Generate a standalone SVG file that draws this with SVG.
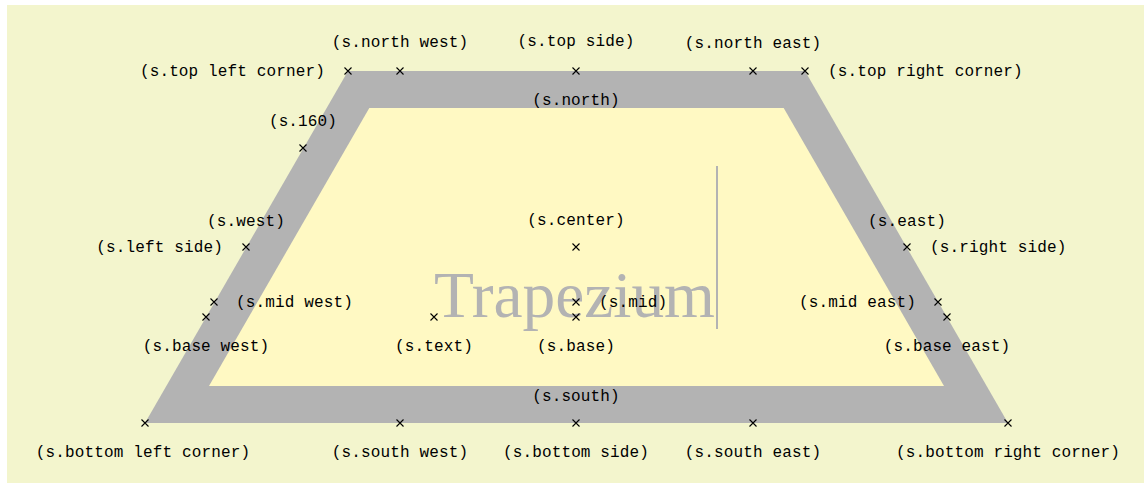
<svg xmlns="http://www.w3.org/2000/svg" width="1144" height="483" viewBox="0 0 1144 483">
<defs>
<style>
.lbl{font-family:"Liberation Mono","DejaVu Sans Mono",monospace;font-size:16px;letter-spacing:0.14px;fill:#000}
.m{text-anchor:middle}
.e{text-anchor:end}
.x{stroke:#000;stroke-width:1.1;fill:none}
</style>
<path id="cross" d="M-3.5,-3.5L3.5,3.5M-3.5,3.5L3.5,-3.5"/>
</defs>
<rect x="0" y="0" width="1144" height="483" fill="#ffffff"/>
<rect x="7" y="5" width="1137" height="478" fill="#f3f5cd"/>
<g id="shape">
<polygon points="348,71 805,71 1008,423 145,423" fill="#b3b3b3"/>
<polygon points="369.3,108 783.7,108 944,386 209,386" fill="#fff9c3"/>
<text x="434" y="317" font-family="'Liberation Serif','DejaVu Serif',serif" font-size="66" fill="#b3b3b3" textLength="281" lengthAdjust="spacingAndGlyphs">Trapezium</text>
<line x1="717" y1="166" x2="717" y2="329" stroke="#b3b3b3" stroke-width="2"/>
</g>
<g id="anchors" class="x">
<use href="#cross" x="348" y="71"/>
<use href="#cross" x="400" y="71"/>
<use href="#cross" x="576" y="71"/>
<use href="#cross" x="753" y="71"/>
<use href="#cross" x="805" y="71"/>
<use href="#cross" x="303" y="148"/>
<use href="#cross" x="246" y="247"/>
<use href="#cross" x="214" y="302"/>
<use href="#cross" x="206" y="317"/>
<use href="#cross" x="576" y="247"/>
<use href="#cross" x="576" y="302"/>
<use href="#cross" x="576" y="317"/>
<use href="#cross" x="434" y="317"/>
<use href="#cross" x="907" y="247"/>
<use href="#cross" x="938" y="302"/>
<use href="#cross" x="947" y="317"/>
<use href="#cross" x="145" y="423"/>
<use href="#cross" x="400" y="423"/>
<use href="#cross" x="576" y="423"/>
<use href="#cross" x="753" y="423"/>
<use href="#cross" x="1008" y="423"/>
</g>
<g id="labels" class="lbl">
<text class="m" x="400" y="47">(s.north west)</text>
<text class="m" x="576" y="46">(s.top side)</text>
<text class="m" x="753" y="48">(s.north east)</text>
<text class="e" x="325" y="76">(s.top left corner)</text>
<text x="828" y="76">(s.top right corner)</text>
<text class="m" x="576" y="105">(s.north)</text>
<text class="m" x="303" y="126">(s.160)</text>
<text class="m" x="246" y="226">(s.west)</text>
<text class="e" x="223" y="252">(s.left side)</text>
<text class="m" x="576" y="225">(s.center)</text>
<text class="m" x="907" y="226">(s.east)</text>
<text x="930" y="252">(s.right side)</text>
<text x="236" y="307">(s.mid west)</text>
<text x="599" y="307">(s.mid)</text>
<text class="e" x="916" y="307">(s.mid east)</text>
<text class="m" x="206" y="351">(s.base west)</text>
<text class="m" x="434" y="351">(s.text)</text>
<text class="m" x="576" y="351">(s.base)</text>
<text class="m" x="947" y="351">(s.base east)</text>
<text class="m" x="576" y="401">(s.south)</text>
<text class="m" x="143" y="457">(s.bottom left corner)</text>
<text class="m" x="400" y="457">(s.south west)</text>
<text class="m" x="576" y="457">(s.bottom side)</text>
<text class="m" x="753" y="457">(s.south east)</text>
<text class="m" x="1008" y="457">(s.bottom right corner)</text>
</g>
</svg>
